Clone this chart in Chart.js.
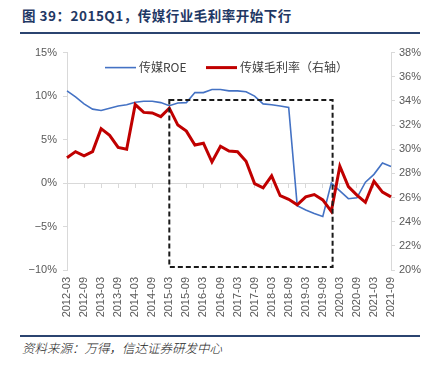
<!DOCTYPE html>
<html>
<head>
<meta charset="utf-8">
<script src="https://cdn.jsdelivr.net/npm/chart.js@4.4.0/dist/chart.umd.min.js"></script>
<style>
    body {
        margin: 0;
        background: #fff;
        width: 431px;
        height: 368px;
        overflow: hidden;
        position: relative;
        font-family: "Noto Sans CJK SC", sans-serif;
    }
    #title {
        position: absolute;
        left: 22px;
        top: 5px;
        font-size: 13.5px;
        font-weight: bold;
        letter-spacing: 0.5px;
        color: #1f3864;
        white-space: nowrap;
    }
    .rule {
        position: absolute;
        left: 20px;
        width: 400px;
        height: 2px;
        background: #2b4470;
    }
    #chart-box {
        position: absolute;
        left: 0;
        top: 40px;
        width: 431px;
        height: 290px;
    }
    #source {
        position: absolute;
        left: 22px;
        top: 338px;
        font-size: 12.5px;
        font-style: italic;
        font-weight: 300;
        color: #222;
        white-space: nowrap;
    }
</style>
</head>
<body>
<div id="title">图 39：2015Q1，传媒行业毛利率开始下行</div>
<div class="rule" style="top:32px"></div>
<div id="chart-box"><canvas id="media-chart" width="431" height="290"></canvas></div>
<div class="rule" style="top:335px"></div>
<div id="source">资料来源：万得，信达证券研发中心</div>

<script>
// Quarter labels
const quarters = [
    '2012-03', '2012-06', '2012-09', '2012-12',
    '2013-03', '2013-06', '2013-09', '2013-12',
    '2014-03', '2014-06', '2014-09', '2014-12',
    '2015-03', '2015-06', '2015-09', '2015-12',
    '2016-03', '2016-06', '2016-09', '2016-12',
    '2017-03', '2017-06', '2017-09', '2017-12',
    '2018-03', '2018-06', '2018-09', '2018-12',
    '2019-03', '2019-06', '2019-09', '2019-12',
    '2020-03', '2020-06', '2020-09', '2020-12',
    '2021-03', '2021-06', '2021-09'
];

// 传媒ROE (%), left axis
const roe = [
    10.6, 9.9, 9.1, 8.5, 8.35, 8.6, 8.85, 9.0, 9.3, 9.4,
    9.4, 9.25, 8.9, 9.2, 9.25, 10.4, 10.4, 10.75, 10.75, 10.6,
    10.6, 10.5, 10.0, 9.1, 9.0, 8.85, 8.7, -2.6, -3.1, -3.5,
    -3.85, 0.0, -0.9, -1.8, -1.7, 0.1, 1.0, 2.3, 1.9
];

// 传媒毛利率 (%), right axis
const grossMargin = [
    29.3, 29.8, 29.45, 29.8, 31.7, 31.15, 30.15, 30.0, 33.7, 33.05,
    33.0, 32.7, 33.4, 32.0, 31.5, 30.35, 30.5, 28.95, 30.25, 29.85,
    29.8, 29.0, 27.15, 26.8, 27.8, 26.15, 25.85, 25.4, 26.05, 26.25,
    25.8, 24.85, 28.6, 26.9, 26.2, 25.6, 27.35, 26.45, 26.05
];

// Axis ranges
const leftTicks = { min: -10, max: 15, step: 5 };
const rightTicks = { min: 20, max: 38, step: 2 };

// Highlight box, in category index and left-axis units
const boxQuarters = [12, 31.15];
const boxRoe = [-9.65, 9.55];

const axisGray = '#d9d9d9';
const labelGray = '#595959';
const tickFont = { family: 'Liberation Sans', size: 11 };

function pct(v) {
    return (v < 0 ? '\u2212' + Math.abs(v) : v) + '%';
}

// Legend drawn inside the plot
const insideLegend = {
    id: 'insideLegend',
    afterDraw(chart) {
        const ctx = chart.ctx;
        const area = chart.chartArea;
        const y = area.top + 15;
        const starts = [area.left + 38, area.left + 139];
        ctx.save();
        ctx.font = '12px "Noto Sans CJK SC"';
        ctx.textBaseline = 'middle';
        chart.data.datasets.forEach(function(ds, i) {
            const x = starts[i];
            ctx.strokeStyle = ds.borderColor;
            ctx.lineWidth = ds.borderWidth;
            ctx.beginPath();
            ctx.moveTo(x, y);
            ctx.lineTo(x + 31, y);
            ctx.stroke();
            ctx.fillStyle = '#404040';
            ctx.fillText(ds.label, x + 34, y);
        });
        ctx.restore();
    }
};

// Dashed box over the 2015-2019 period
const dashBox = {
    id: 'dashBox',
    afterDatasetsDraw(chart) {
        const xs = chart.scales.x;
        const ys = chart.scales.y;
        const left = xs.getPixelForValue(boxQuarters[0]);
        const right = xs.getPixelForValue(boxQuarters[1]);
        const top = ys.getPixelForValue(boxRoe[1]);
        const bottom = ys.getPixelForValue(boxRoe[0]);
        const ctx = chart.ctx;
        ctx.save();
        ctx.setLineDash([5, 3]);
        ctx.lineWidth = 2;
        ctx.strokeStyle = '#1a1a1a';
        ctx.strokeRect(left, top, right - left, bottom - top);
        ctx.restore();
    }
};

const ctx = document.getElementById('media-chart').getContext('2d');

new Chart(ctx, {
    type: 'line',
    data: {
        labels: quarters,
        datasets: [
            {
                label: '传媒ROE',
                data: roe,
                yAxisID: 'y',
                borderColor: '#4472c4',
                borderWidth: 1.6,
                pointRadius: 0,
                tension: 0,
                order: 2
            },
            {
                label: '传媒毛利率（右轴）',
                data: grossMargin,
                yAxisID: 'y1',
                borderColor: '#c00000',
                borderWidth: 3,
                pointRadius: 0,
                tension: 0,
                order: 1
            }
        ]
    },
    options: {
        responsive: false,
        animation: false,
        layout: {
            padding: { top: 10, left: 0, right: 0, bottom: 0 }
        },
        plugins: {
            legend: { display: false },
            tooltip: { enabled: false }
        },
        scales: {
            x: {
                type: 'category',
                offset: false,
                grid: { display: false, drawTicks: false },
                border: { display: false },
                ticks: {
                    autoSkip: false,
                    minRotation: 90,
                    maxRotation: 90,
                    padding: 7,
                    color: labelGray,
                    font: tickFont,
                    callback: function(value, index) {
                        return index % 2 === 0 ? this.getLabelForValue(value) : '';
                    }
                },
                afterFit: function(scale) {
                    scale.height = 60;
                }
            },
            // Zero line with tick marks
            x0: {
                type: 'category',
                position: { y: 0 },
                offset: false,
                grid: {
                    drawOnChartArea: false,
                    drawTicks: true,
                    tickLength: 4,
                    color: function(c) {
                        return c.index % 2 === 0 ? axisGray : 'rgba(0,0,0,0)';
                    }
                },
                border: { display: true, color: axisGray, width: 1 },
                ticks: { display: false, autoSkip: false }
            },
            y: {
                position: 'left',
                min: leftTicks.min,
                max: leftTicks.max,
                grid: { drawOnChartArea: false, tickLength: 4, color: axisGray },
                border: { color: axisGray },
                ticks: {
                    stepSize: leftTicks.step,
                    padding: 6,
                    color: labelGray,
                    font: tickFont,
                    callback: pct
                },
                afterFit: function(scale) {
                    scale.width = 67;
                }
            },
            y1: {
                position: 'right',
                min: rightTicks.min,
                max: rightTicks.max,
                grid: { drawOnChartArea: false, tickLength: 4, color: axisGray },
                border: { color: axisGray },
                ticks: {
                    stepSize: rightTicks.step,
                    padding: 4,
                    color: labelGray,
                    font: tickFont,
                    callback: pct
                },
                afterFit: function(scale) {
                    scale.width = 40;
                }
            }
        }
    },
    plugins: [dashBox, insideLegend]
});
</script>
</body>
</html>
